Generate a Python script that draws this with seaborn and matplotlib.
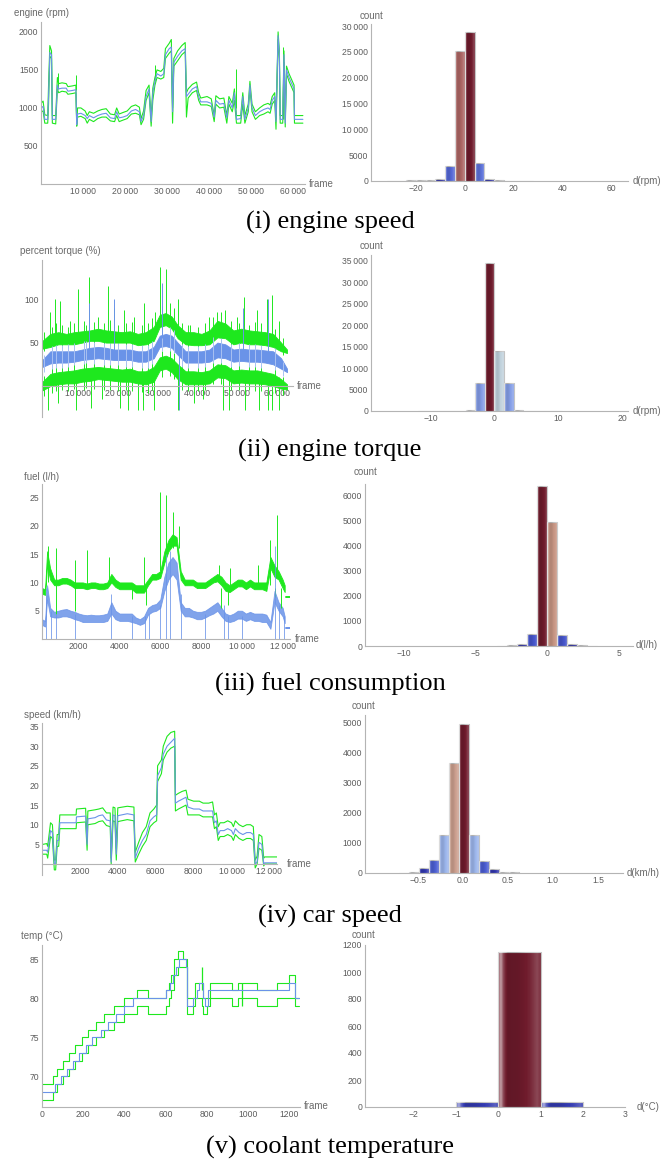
"""
Five-row panel: model bands over time (left) and histograms of the
prediction error (right) for engine speed, torque, fuel, car speed, coolant.
Output: out.png (662x1163)
"""

import numpy as np
import pandas as pd
import matplotlib
matplotlib.use("Agg")
import matplotlib.pyplot as plt
import seaborn as sns
from matplotlib.colors import LinearSegmentedColormap
from matplotlib.ticker import FuncFormatter, AutoMinorLocator

# ---------------- (i) engine speed ----------------
rpm_frame = [0, 500, 900, 1600, 1800, 2100, 2500, 2700, 3500, 3900,
             4200, 5000, 6000, 6400, 7500, 8300, 8500, 8700, 9500, 10500,
             11000, 11500, 12500, 13500, 14500, 15500, 16500, 17500, 18000, 18600,
             19500, 20500, 21500, 22500, 23400, 23800, 24400, 25000, 25700, 26200,
             26600, 27100, 27600, 28500, 29200, 29600, 30500, 31000, 31300, 31600,
             32500, 33500, 34300, 34600, 35000, 36000, 37000, 37500, 38000, 39500,
             40500, 41200, 41600, 42500, 43500, 44200, 44700, 45500, 46000, 46500,
             47500, 48000, 48500, 49300, 49700, 50200, 51000, 52000, 53000, 54000,
             54500, 55000, 55600, 55900, 56400, 56700, 56900, 57500, 57800, 58100,
             58400, 59000, 59800, 60200, 60300, 62300]
rpm_mid = [1000, 1020, 850, 850, 1150, 1730, 1700, 850, 850, 1300,
           1250, 1260, 1260, 1220, 1230, 1240, 780, 920, 930, 900,
           860, 900, 870, 900, 920, 930, 870, 860, 950, 870,
           880, 900, 960, 980, 950, 820, 900, 1150, 1250, 820,
           1200, 1350, 1450, 1420, 1450, 1700, 1780, 1800, 950, 1600,
           1680, 1750, 1780, 1150, 1180, 1250, 1280, 1150, 1080, 1080,
           1060, 880, 1100, 1050, 1060, 870, 1100, 1000, 1200, 850,
           860, 1150, 850, 1000, 1300, 1000, 900, 950, 980, 1000,
           980, 1100, 1150, 820, 1950, 1700, 850, 850, 1700, 800,
           1500, 1400, 1300, 1250, 850, 850]
rpm_upper = [1060, 1090, 910, 900, 1300, 1820, 1750, 900, 900, 1400,
             1320, 1330, 1320, 1280, 1290, 1300, 790, 1000, 1000, 960,
             900, 950, 930, 960, 980, 990, 920, 910, 1000, 920,
             940, 960, 1020, 1040, 1010, 860, 960, 1230, 1300, 880,
             1260, 1400, 1500, 1480, 1520, 1780, 1850, 1900, 1000, 1650,
             1750, 1820, 1860, 1200, 1250, 1310, 1340, 1200, 1130, 1150,
             1120, 900, 1160, 1120, 1130, 900, 1150, 1060, 1250, 900,
             900, 1200, 900, 1050, 1350, 1050, 950, 1000, 1040, 1060,
             1040, 1150, 1200, 850, 2000, 1750, 900, 900, 1750, 850,
             1550, 1450, 1350, 1300, 900, 900]
rpm_lower = [950, 960, 800, 800, 1050, 1680, 1650, 800, 790, 1250,
             1200, 1220, 1210, 1180, 1190, 1200, 760, 880, 890, 860,
             800, 850, 820, 860, 880, 880, 830, 820, 900, 820,
             840, 860, 920, 930, 910, 780, 850, 1100, 1200, 760,
             1100, 1300, 1400, 1380, 1400, 1650, 1720, 1750, 800, 1550,
             1620, 1700, 1740, 880, 1130, 1200, 1230, 1100, 1040, 1040,
             1020, 820, 1050, 1000, 1010, 800, 1050, 950, 1100, 800,
             800, 1050, 800, 950, 1250, 950, 850, 900, 920, 950,
             930, 1050, 1100, 720, 1900, 1650, 800, 800, 1600, 750,
             1450, 1350, 1250, 1200, 800, 800]
rpm_spike_frame = [4100, 8300, 27000, 46300, 57600]
rpm_spike_top = [1460, 1430, 1560, 1510, 1800]
rpm_spike_bottom = [1250, 1240, 1350, 1000, 850]
rpm_edges = [-32, -28, -24, -20, -16, -12, -8, -4, 0, 4, 8, 12, 16, 20, 24, 28]
rpm_counts = [20, 40, 100, 200, 200, 400, 2900, 25200, 28800, 3400, 400, 100, 50, 20, 10]

# ---------------- (ii) engine torque ----------------
torque_frame = [1000, 3000, 5000, 7000, 9000, 11000, 13000, 15000, 17000, 19000,
                21000, 23000, 25000, 27000, 29000, 30500, 32000, 33500, 35000, 37000,
                39000, 41000, 43000, 45000, 47000, 49000, 51000, 53000, 55000, 57000,
                59000, 61000, 62500]
torque_up_hi = [52, 60, 62, 60, 62, 63, 64, 66, 64, 63, 62, 63, 60, 62, 68, 82, 84, 80, 70, 62,
                62, 60, 64, 75, 72, 64, 66, 64, 63, 62, 60, 50, 42]
torque_up_lo = [43, 45, 48, 48, 48, 50, 52, 52, 50, 50, 50, 50, 47, 48, 52, 68, 70, 66, 55, 48,
                47, 47, 48, 56, 55, 48, 50, 48, 48, 47, 45, 40, 38]
torque_mid_hi = [30, 40, 40, 40, 40, 42, 44, 45, 44, 42, 42, 42, 40, 40, 45, 58, 60, 58, 50, 40,
                 40, 40, 42, 50, 48, 42, 43, 42, 42, 41, 40, 32, 20]
torque_mid_lo = [22, 26, 27, 27, 28, 30, 31, 32, 31, 30, 30, 30, 28, 28, 32, 45, 46, 44, 36, 27,
                 27, 27, 28, 33, 32, 28, 29, 28, 28, 27, 25, 20, 16]
torque_low_hi = [5, 14, 16, 17, 18, 20, 21, 22, 21, 20, 19, 20, 17, 17, 22, 33, 35, 32, 25, 17,
                 17, 16, 18, 25, 24, 18, 19, 18, 18, 16, 14, 8, 2]
torque_low_lo = [-5, 0, 2, 3, 3, 5, 6, 8, 7, 6, 5, 5, 3, 2, 5, 18, 20, 16, 8, 2,
                 2, 2, 3, 10, 9, 3, 4, 3, 3, 2, 0, -3, -4]
torque_spike_frame = [2500, 2800, 4200, 5000, 5300, 8000, 9500, 10000, 12800, 13200,
                      15000, 16000, 17500, 19000, 20500, 21500, 22500, 24000, 25000, 26300,
                      26500, 29000, 29200, 30500, 32000, 35000, 35200, 38000, 39000, 41500,
                      43000, 45000, 46500, 47000, 48000, 50000, 51800, 52000, 55000, 55500,
                      57500, 57600, 58600, 58800, 60500, 60600]
torque_spike_top = [10, 85, 100, 10, 98, 75, 10, 112, 125, 10,
                    80, 10, 115, 90, 10, 88, 10, 80, 10, 10,
                    95, 10, 85, 137, 135, 20, 100, 70, 10, 10,
                    80, 85, 10, 88, 10, 80, 103, 10, 88, 10,
                    100, 10, 10, 105, 75, 10]
torque_spike_bottom = [-28, 50, 50, -20, 50, 50, -28, 50, 55, -25,
                       55, -15, 55, 55, -25, 55, -28, 55, -28, -28,
                       55, -28, 55, 70, 70, -28, 60, 50, -20, -15,
                       55, 60, -28, 60, -28, 55, 55, -28, 55, -28,
                       55, -28, -28, 55, 50, -28]
torque_blue_spike_frame = [12700, 19000, 31100, 35300, 51500, 57800]
torque_blue_spike_top = [95, 100, 118, 45, 90, 100]
torque_blue_spike_bottom = [40, 40, 55, -28, 40, 40]
# shorter jitter strokes that give the bands their ragged edges
torque_noise_frame = [1500, 3500, 4500, 6000, 7500, 9000, 11500, 12000, 14000, 16500,
                      18000, 20000, 22000, 23500, 26000, 27500, 28500, 31000, 33000, 34000,
                      36000, 37500, 40000, 42000, 44000, 46000, 48500, 50500, 53000, 54500,
                      56000, 59500, 61500]
torque_up_noise_top = [62, 68, 72, 70, 68, 72, 75, 70, 74, 72, 76, 70, 72, 74, 70, 72, 78,
                       92, 95, 90, 72, 70, 68, 72, 80, 85, 75, 72, 70, 74, 72, 66, 55]
torque_up_noise_bottom = [40, 42, 44, 44, 44, 46, 47, 47, 47, 46, 46, 46, 46, 45, 44, 44, 47,
                          62, 64, 60, 44, 43, 43, 44, 50, 50, 45, 45, 45, 45, 44, 42, 36]
torque_low_noise_top = [12, 22, 24, 24, 25, 27, 28, 30, 28, 27, 27, 26, 27, 26, 24, 24, 28,
                        40, 42, 38, 24, 24, 23, 25, 32, 32, 25, 26, 25, 25, 24, 20, 10]
torque_low_noise_bottom = [-12, -8, -6, -5, -6, -3, -4, -2, -3, -4, -5, -6, -5, -6, -7, -8, -4,
                           10, 12, 8, -4, -6, -6, -5, 2, 2, -5, -5, -5, -6, -6, -8, -10]
torque_mid_noise_top = [36, 46, 47, 47, 48, 50, 52, 52, 51, 50, 50, 50, 48, 48, 47, 47, 52,
                        66, 68, 64, 48, 46, 46, 48, 56, 55, 48, 49, 48, 48, 47, 44, 28]
torque_mid_noise_bottom = [16, 20, 21, 21, 22, 24, 25, 26, 25, 24, 24, 24, 22, 22, 21, 21, 25,
                           40, 40, 38, 22, 21, 21, 22, 27, 27, 22, 23, 22, 22, 21, 18, 12]
torque_edges = [-12, -10.5, -9, -7.5, -6, -4.5, -3, -1.5, 0, 1.5, 3, 4.5, 6, 7.5, 9, 10.5]
torque_counts = [10, 20, 30, 50, 80, 200, 6400, 34500, 14000, 6500, 200, 80, 40, 20, 10]

# ---------------- (iii) fuel consumption ----------------
fuel_frame = [200, 350, 450, 600, 800, 1000, 1200, 1400, 1600, 1800,
              2000, 2200, 2400, 2600, 2800, 3000, 3200, 3400, 3600, 3800,
              4000, 4200, 4400, 4600, 4800, 5000, 5200, 5400, 5600, 5800,
              6000, 6200, 6400, 6600, 6800, 7000, 7200, 7400, 7600, 7800,
              8000, 8200, 8400, 8600, 8800, 9000, 9200, 9400, 9600, 9800,
              10000, 10200, 10400, 10600, 10800, 11000, 11200, 11400, 11600, 11800,
              12000, 12100]
fuel_green_hi = [9.0, 8.8, 15.5, 12.5, 10.5, 10.5, 10.8, 10.8, 10.5, 10.0,
                 10.0, 10.0, 9.8, 10.0, 10.0, 9.8, 9.8, 10.0, 11.5, 10.5,
                 10.0, 10.0, 10.0, 10.0, 9.5, 9.5, 9.5, 10.5, 11.5, 11.5,
                 12.0, 15.5, 17.5, 18.5, 18.0, 12.0, 10.5, 10.5, 10.5, 10.0,
                 10.0, 10.0, 10.5, 11.0, 11.5, 11.0, 10.0, 9.5, 10.0, 10.5,
                 10.5, 10.0, 10.5, 10.0, 10.0, 10.0, 10.0, 14.5, 13.0, 12.0,
                 10.5, 9.5]
fuel_green_lo = [8.0, 7.8, 13.0, 10.5, 9.5, 9.5, 9.8, 9.8, 9.5, 9.0,
                 9.0, 9.0, 8.8, 9.0, 9.0, 8.8, 8.8, 9.0, 10.0, 9.2,
                 8.8, 8.8, 8.8, 8.8, 8.2, 8.2, 8.2, 9.5, 10.5, 10.5,
                 10.8, 13.5, 15.5, 16.5, 16.5, 10.5, 9.5, 9.5, 9.5, 9.0,
                 9.0, 9.0, 9.5, 10.0, 10.2, 9.5, 8.5, 8.3, 8.8, 9.3,
                 9.3, 8.8, 9.3, 8.8, 8.8, 8.8, 8.5, 12.5, 11.0, 10.5,
                 9.0, 8.3]
fuel_blue_hi = [3.5, 3.2, 9.5, 5.5, 4.8, 5.0, 5.2, 5.3, 5.0, 4.8,
                4.5, 4.3, 4.2, 4.3, 4.2, 4.2, 4.3, 4.5, 6.5, 5.0,
                4.5, 4.5, 4.5, 4.5, 3.8, 3.5, 4.0, 5.5, 6.0, 6.2,
                7.0, 11.0, 13.5, 14.5, 13.5, 6.5, 5.5, 5.5, 5.0, 4.8,
                4.8, 5.0, 5.5, 6.0, 6.5, 5.5, 4.5, 4.2, 4.5, 5.0,
                5.0, 4.5, 4.8, 4.5, 4.5, 4.5, 4.3, 3.0, 8.5, 6.5,
                5.5, 4.0]
fuel_blue_lo = [2.5, 2.2, 7.0, 4.0, 3.8, 3.8, 4.0, 4.0, 3.8, 3.5,
                3.3, 3.0, 3.0, 3.0, 3.0, 3.0, 3.0, 3.2, 4.5, 3.5,
                3.2, 3.2, 3.2, 3.0, 2.8, 2.5, 2.8, 4.3, 4.8, 5.0,
                5.5, 8.5, 10.5, 11.5, 10.5, 5.0, 4.0, 4.0, 3.8, 3.5,
                3.5, 3.8, 4.2, 4.5, 5.0, 4.0, 3.2, 3.0, 3.2, 3.6,
                3.6, 3.2, 3.5, 3.2, 3.2, 3.0, 3.0, 1.8, 6.5, 5.0,
                4.0, 2.8]
fuel_gspike_frame = [500, 900, 1800, 2400, 3500, 5200, 6000, 6300, 6600, 6900, 8900, 9400,
                     10800, 11400, 11700, 900, 1800, 4600, 5300, 9000, 9300, 11600, 11900]
fuel_gspike_top = [16.5, 16.0, 14.0, 15.8, 14.5, 14.5, 26.0, 25.5, 22.5, 20.0, 13.0, 12.5,
                   13.0, 17.5, 22.0, 9.5, 9.5, 9.0, 9.0, 9.0, 9.0, 9.0, 9.0]
fuel_gspike_bottom = [10, 10, 9.5, 9.5, 9.5, 9.5, 12, 15, 16, 16, 10, 9.5,
                      9.5, 9.5, 11, 4.5, 5.0, 7.0, 6.0, 5.5, 6.0, 7.5, 5.5]
fuel_bspike_frame = [380, 650, 900, 1800, 3600, 4600, 5250, 5450, 6000, 6300,
                     6500, 7000, 8200, 9100, 9300, 10000, 11600, 11800, 12050]
fuel_bspike_top = [9.0, 5.0, 4.5, 4.5, 8.0, 4.0, 4.0, 4.5, 6.0, 15.0,
                   15.5, 8.0, 4.5, 6.0, 4.0, 4.0, 16.5, 6.0, 4.0]
fuel_tail_frame = [12150, 12400]
fuel_tail_green = [7.5, 7.5]
fuel_tail_blue = [2.0, 2.0]
fuel_edges = [-3.5, -2.8, -2.1, -1.4, -0.7, 0.0, 0.7, 1.4, 2.1, 2.8, 3.5]
fuel_counts = [10, 20, 60, 470, 6380, 4930, 450, 60, 20, 10]

# ---------------- (iv) car speed ----------------
speed_frame = [50, 250, 300, 450, 550, 650, 720, 800, 880, 940,
               1800, 1820, 2300, 2380, 2420, 2800, 3000, 3200, 3400, 3600,
               3650, 3750, 3850, 3920, 4000, 4500, 4850, 4920, 5100, 5300,
               5500, 5700, 5900, 6050, 6100, 6300, 6400, 6600, 6800, 7000,
               7040, 7200, 7400, 7600, 7700, 8000, 8300, 8500, 8800, 9000,
               9100, 9200, 9300, 9400, 9600, 9800, 10000, 10100, 10200, 10400,
               10600, 10800, 11000, 11150, 11250, 11350, 11450, 11600, 11700, 11750,
               12400]
speed_mid = [3.5, 3.5, 3.0, 8.5, 8.0, 0.0, 0.0, 6.0, 6.0, 10.5,
             10.5, 12.0, 12.2, 5.0, 11.5, 11.8, 12.3, 12.5, 11.2, 11.0,
             0.5, 12.5, 12.3, 2.5, 12.3, 12.8, 12.5, 1.5, 4.0, 6.0,
             7.5, 11.0, 12.0, 12.5, 22.5, 24.5, 28.0, 30.0, 31.0, 32.0,
             15.5, 16.0, 16.5, 17.0, 14.5, 14.0, 14.0, 13.5, 13.5, 13.5,
             10.5, 11.0, 7.5, 8.5, 8.5, 9.0, 8.5, 7.5, 9.0, 8.0,
             7.5, 8.0, 8.0, 7.5, 0.0, 0.5, 5.5, 5.0, 0.0, 0.3,
             0.3]
speed_upper = [5.0, 5.2, 4.5, 10.5, 10.0, 1.0, 1.0, 7.5, 7.5, 12.5,
               12.5, 14.0, 14.2, 6.5, 13.5, 13.8, 14.0, 14.3, 13.0, 13.0,
               1.5, 14.5, 14.3, 4.0, 14.3, 14.7, 14.5, 3.0, 5.5, 8.0,
               9.5, 13.0, 14.0, 15.0, 25.0, 26.5, 30.0, 32.5, 33.5, 33.8,
               17.5, 18.0, 18.5, 18.8, 16.5, 16.0, 16.0, 15.5, 15.5, 15.8,
               12.5, 13.0, 9.5, 10.5, 10.5, 11.0, 10.5, 9.5, 11.0, 10.0,
               9.5, 10.0, 10.0, 9.5, 1.0, 2.0, 7.5, 7.0, 1.5, 1.8,
               1.8]
speed_lower = [2.5, 2.5, 1.5, 7.0, 6.5, -1.5, -1.5, 4.5, 4.5, 9.0,
               9.0, 10.5, 10.7, 3.5, 10.0, 10.3, 10.8, 11.0, 9.8, 9.5,
               0.0, 11.0, 10.8, 1.0, 10.8, 11.3, 11.0, 0.5, 2.5, 4.5,
               6.0, 9.5, 10.5, 11.0, 21.0, 23.0, 26.5, 28.5, 29.5, 30.0,
               13.5, 14.0, 14.5, 15.0, 12.5, 12.5, 12.5, 12.0, 12.0, 12.0,
               9.0, 9.5, 6.0, 7.0, 7.0, 7.5, 7.0, 6.0, 7.5, 6.5,
               6.0, 6.5, 6.5, 6.0, -1.0, 0.0, 4.0, 3.5, -0.5, 0.0,
               0.0]
speed_edges = [-0.708, -0.597, -0.487, -0.376, -0.266, -0.155, -0.044,
               0.066, 0.177, 0.288, 0.398, 0.509, 0.620]
speed_counts = [10, 40, 150, 430, 1250, 3650, 4950, 1270, 410, 130, 40, 20]

# ---------------- (v) coolant temperature ----------------
temp_mid_frame = [0, 62, 90, 120, 150, 180, 215, 245, 285, 320, 360, 400, 440, 600, 620,
                  635, 650, 665, 700, 705, 735, 750, 760, 783, 790, 807, 1197, 1229, 1245]
temp_mid = [68, 69, 70, 71, 72, 73, 74, 75, 76, 77, 78, 79, 80, 81, 82,
            83, 84, 85, 84, 79, 80, 81, 82, 80, 79, 81, 82, 80, 80]
temp_up_frame = [0, 55, 72, 100, 130, 160, 192, 225, 260, 300, 350, 400, 460, 515, 600, 615,
                 625, 640, 660, 682, 702, 742, 783, 815, 920, 953, 1042, 1140, 1197, 1229, 1245]
temp_up = [69, 70, 71, 72, 73, 74, 75, 76, 77, 78, 79, 80, 81, 80, 81, 82,
           83, 85, 86, 85, 80, 82, 80, 82, 81, 82, 81, 82, 83, 80, 80]
temp_lo_frame = [0, 55, 75, 100, 130, 160, 192, 225, 260, 300, 350, 400, 460, 515, 600, 615,
                 625, 640, 660, 702, 731, 742, 775, 783, 799, 815, 920, 953, 1042, 1140, 1229, 1245]
temp_lo = [67, 68, 69, 70, 71, 72, 73, 74, 75, 76, 77, 78, 79, 78, 79, 80,
           81, 83, 84, 78, 79, 80, 79, 78, 79, 80, 79, 80, 79, 80, 79, 79]
temp_spike_frame = [775, 969]
temp_spike_top = [84, 82]
temp_spike_bottom = [81, 79]
temp_edges = [-1, 0, 1, 2]
temp_counts = [40, 1150, 40]

# tick values
rpm_xticks = [10000, 20000, 30000, 40000, 50000, 60000]
rpm_yticks = [500, 1000, 1500, 2000]
rpm_hist_xticks = [-20, 0, 20, 40, 60]
rpm_hist_yticks = [0, 5000, 10000, 15000, 20000, 25000, 30000]
torque_yticks = [50, 100]
torque_hist_xticks = [-10, 0, 10, 20]
torque_hist_yticks = [0, 5000, 10000, 15000, 20000, 25000, 30000, 35000]
fuel_xticks = [2000, 4000, 6000, 8000, 10000, 12000]
fuel_yticks = [5, 10, 15, 20, 25]
fuel_hist_xticks = [-10, -5, 0, 5]
fuel_hist_yticks = [0, 1000, 2000, 3000, 4000, 5000, 6000]
speed_yticks = [5, 10, 15, 20, 25, 30, 35]
speed_hist_xticks = [-0.5, 0.0, 0.5, 1.0, 1.5]
speed_hist_yticks = [0, 1000, 2000, 3000, 4000, 5000]
temp_xticks = [0, 200, 400, 600, 800, 1000, 1200]
temp_yticks = [70, 75, 80, 85]
temp_hist_xticks = [-2, -1, 0, 1, 2, 3]
temp_hist_yticks = [0, 200, 400, 600, 800, 1000, 1200]

# ---------------- style ----------------
sns.set_theme(style="white")
plt.rcParams["font.family"] = ["Liberation Sans", "DejaVu Sans"]

GREEN = "#1ee81e"
BLUE = "#6a93e8"
LIGHT_BLUE = "#a9c1f2"
AXIS = "#b4b4b4"
TICK = "#5c5c5c"
LBL = "#6a6a6a"

bar_cmap = LinearSegmentedColormap.from_list("bars", [
    (0.0, "#24249c"), (0.08, "#4a5cd2"), (0.2, "#8ba6ea"), (0.3, "#abc3ee"),
    (0.42, "#c4d4da"), (0.65, "#d6b6a6"), (0.78, "#c79482"), (0.88, "#ad6564"),
    (1.0, "#6f1b2c")])

# glassy highlight laid over every bar
gx = np.linspace(0, 1, 64)
gv = np.interp(gx, [0.0, 0.06, 0.12, 0.22, 0.45, 0.75, 0.92, 1.0],
               [0.25, 0.6, 0.2, -0.12, -0.1, 0.05, 0.2, 0.1])
glass = np.zeros((1, 64, 4))
glass[0, :, :3] = np.where(gv > 0, 1.0, 0.0)[:, None]
glass[0, :, 3] = np.abs(gv)

W, H = 662, 1163
fig = plt.figure(figsize=(W / 100, H / 100), dpi=100)


def px_axes(l, t, r, b):
    return fig.add_axes([l / W, 1 - b / H, (r - l) / W, (b - t) / H])


def px_text(x, y, s, **kw):
    fig.text(x / W, 1 - y / H, s, **kw)


def num(v, pos=None):
    n = int(round(v))
    s = str(abs(n))
    if abs(n) >= 10000:
        s = s[:-3] + "\u2009" + s[-3:]
    return ("\u2212" if n < 0 else "") + s


def dec1(v, pos=None):
    return f"{v:.1f}".replace("-", "\u2212")


def style(ax, xticks, yticks, xlim, ylim, xfmt=num, yfmt=num, xminor=5, yminor=5, xspine=None):
    sns.despine(ax=ax)
    for side in ("left", "bottom"):
        ax.spines[side].set_color(AXIS)
        ax.spines[side].set_linewidth(0.8)
    if xspine is not None:
        ax.spines["bottom"].set_position(("data", xspine))
    ax.set_xticks(xticks)
    ax.set_yticks(yticks)
    ax.xaxis.set_major_formatter(FuncFormatter(xfmt))
    ax.yaxis.set_major_formatter(FuncFormatter(yfmt))
    ax.xaxis.set_minor_locator(AutoMinorLocator(xminor))
    ax.yaxis.set_minor_locator(AutoMinorLocator(yminor))
    ax.tick_params(which="both", direction="in", color=AXIS, width=0.6,
                   labelsize=6.2, labelcolor=TICK, pad=2)
    ax.tick_params(which="major", length=3)
    ax.tick_params(which="minor", length=1.5)
    ax.set_xlabel("")
    ax.set_ylabel("")
    ax.set_facecolor("none")
    ax.grid(False)
    ax.set_xlim(*xlim)
    ax.set_ylim(*ylim)


def line(ax, x, y, color, lw=0.8, **kw):
    sns.lineplot(x=x, y=y, ax=ax, color=color, lw=lw, estimator=None, sort=False, **kw)


def hist(ax, edges, counts):
    edges = np.asarray(edges, dtype=float)
    df = pd.DataFrame({"d": (edges[:-1] + edges[1:]) / 2, "count": counts})
    sns.histplot(data=df, x="d", weights="count", bins=len(counts),
                 binrange=(edges[0], edges[-1]), ax=ax, stat="count",
                 edgecolor="#c4c4c4", linewidth=0.8, alpha=1)
    top = float(max(counts))
    for patch in list(ax.patches):
        h = patch.get_height()
        if h <= 0:
            continue
        patch.set_facecolor(bar_cmap(h / top))
        x0, w = patch.get_x(), patch.get_width()
        im = ax.imshow(glass, extent=(x0, x0 + w, 0, h), aspect="auto",
                       interpolation="bilinear", zorder=patch.get_zorder() + 0.1)
        im.set_clip_path(patch)


# ---- row (i)
ax = px_axes(41, 22, 305, 184)
line(ax, rpm_frame, rpm_upper, GREEN)
line(ax, rpm_frame, rpm_lower, GREEN)
ax.vlines(rpm_spike_frame, rpm_spike_bottom, rpm_spike_top, color=GREEN, lw=0.7)
line(ax, rpm_frame, rpm_mid, BLUE)
style(ax, rpm_xticks, rpm_yticks, (0, 62800), (0, 2130))

ax = px_axes(371, 24, 628, 181)
hist(ax, rpm_edges, rpm_counts)
style(ax, rpm_hist_xticks, rpm_hist_yticks, (-38.4, 66.8), (0, 30400), xminor=4)

# ---- row (ii)
ax = px_axes(42, 260, 293, 417)
ax.fill_between(torque_frame, torque_up_lo, torque_up_hi, color=GREEN, lw=0.6)
ax.fill_between(torque_frame, torque_low_lo, torque_low_hi, color=GREEN, lw=0.6)
ax.vlines(torque_noise_frame, torque_up_noise_bottom, torque_up_noise_top, color=GREEN, lw=0.7)
ax.vlines(torque_noise_frame, torque_low_noise_bottom, torque_low_noise_top, color=GREEN, lw=0.7)
ax.vlines(torque_spike_frame, torque_spike_bottom, torque_spike_top, color=GREEN, lw=0.7)
ax.fill_between(torque_frame, torque_mid_lo, torque_mid_hi, color=BLUE, lw=0.6)
ax.vlines(torque_noise_frame, torque_mid_noise_bottom, torque_mid_noise_top, color=LIGHT_BLUE, lw=0.7)
ax.vlines(torque_blue_spike_frame, torque_blue_spike_bottom, torque_blue_spike_top, color=BLUE, lw=0.7)
style(ax, rpm_xticks, torque_yticks, (900, 64000), (-35.6, 145), xspine=0)

ax = px_axes(371, 255, 628, 411)
hist(ax, torque_edges, torque_counts)
style(ax, torque_hist_xticks, torque_hist_yticks, (-19.3, 20.9), (0, 36300))

# ---- row (iii)
ax = px_axes(42, 484, 290, 639)
ax.fill_between(fuel_frame, fuel_green_lo, fuel_green_hi, color=GREEN, lw=0.6)
ax.vlines(fuel_gspike_frame, fuel_gspike_bottom, fuel_gspike_top, color=GREEN, lw=0.7)
ax.fill_between(fuel_frame, fuel_blue_lo, fuel_blue_hi, color=BLUE, lw=0.6, alpha=0.85)
ax.vlines(fuel_bspike_frame, 0, fuel_bspike_top, color=BLUE, lw=0.7, alpha=0.8)
line(ax, fuel_tail_frame, fuel_tail_green, GREEN, lw=1.4)
line(ax, fuel_tail_frame, fuel_tail_blue, BLUE, lw=1.4)
style(ax, fuel_xticks, fuel_yticks, (200, 12360), (0, 27.4))

ax = px_axes(365, 484, 633, 646)
hist(ax, fuel_edges, fuel_counts)
style(ax, fuel_hist_xticks, fuel_hist_yticks, (-12.7, 6.0), (0, 6450))

# ---- row (iv)
ax = px_axes(42, 723, 277, 875)
line(ax, speed_frame, speed_upper, GREEN)
line(ax, speed_frame, speed_lower, GREEN)
line(ax, speed_frame, speed_mid, BLUE)
style(ax, fuel_xticks, speed_yticks, (0, 12400), (-2.8, 35.9), xspine=0)

ax = px_axes(365, 715, 623, 873)
hist(ax, speed_edges, speed_counts)
style(ax, speed_hist_xticks, speed_hist_yticks, (-1.09, 1.78), (0, 5240), xfmt=dec1)

# ---- row (v)
ax = px_axes(42, 945, 300, 1107)
line(ax, temp_up_frame, temp_up, GREEN, drawstyle="steps-post")
line(ax, temp_lo_frame, temp_lo, GREEN, drawstyle="steps-post")
ax.vlines(temp_spike_frame, temp_spike_bottom, temp_spike_top, color=GREEN, lw=0.9)
line(ax, temp_mid_frame, temp_mid, BLUE, drawstyle="steps-post")
style(ax, temp_xticks, temp_yticks, (0, 1252), (66.1, 86.8))

ax = px_axes(365, 945, 625, 1107)
hist(ax, temp_edges, temp_counts)
style(ax, temp_hist_xticks, temp_hist_yticks, (-3.16, 3.0), (0, 1200))

# ---- axis labels (Mathematica style: at the axis ends)
lab = dict(fontsize=7, color=LBL, va="center")
for x, y, s in [(41, 13, "engine (rpm)"), (60, 251, "percent torque (%)"),
                (42, 477, "fuel (l/h)"), (52, 715, "speed (km/h)"),
                (42, 936, "temp (\u00b0C)"),
                (371, 16, "count"), (371, 246, "count"), (366, 472, "count"),
                (364, 706, "count"), (364, 935, "count")]:
    px_text(x, y, s, ha="center", **lab)
for x, y, s in [(309, 184, "frame"), (297, 386, "frame"), (295, 639, "frame"),
                (287, 864, "frame"), (304, 1106, "frame"),
                (633, 181, "d(rpm)"), (633, 411, "d(rpm)"), (636, 645, "d(l/h)"),
                (627, 873, "d(km/h)"), (637, 1107, "d(\u00b0C)")]:
    px_text(x, y, s, ha="left", **lab)

# ---- captions
cap = dict(fontsize=19, family=["Liberation Serif", "DejaVu Serif"], color="black",
           ha="center", va="center")
for y, s in [(222, "(i) engine speed"), (450, "(ii) engine torque"),
             (684, "(iii) fuel consumption"), (916, "(iv) car speed"),
             (1147, "(v) coolant temperature")]:
    px_text(330, y, s, **cap)

fig.savefig("out.png", dpi=100)
plt.close(fig)
